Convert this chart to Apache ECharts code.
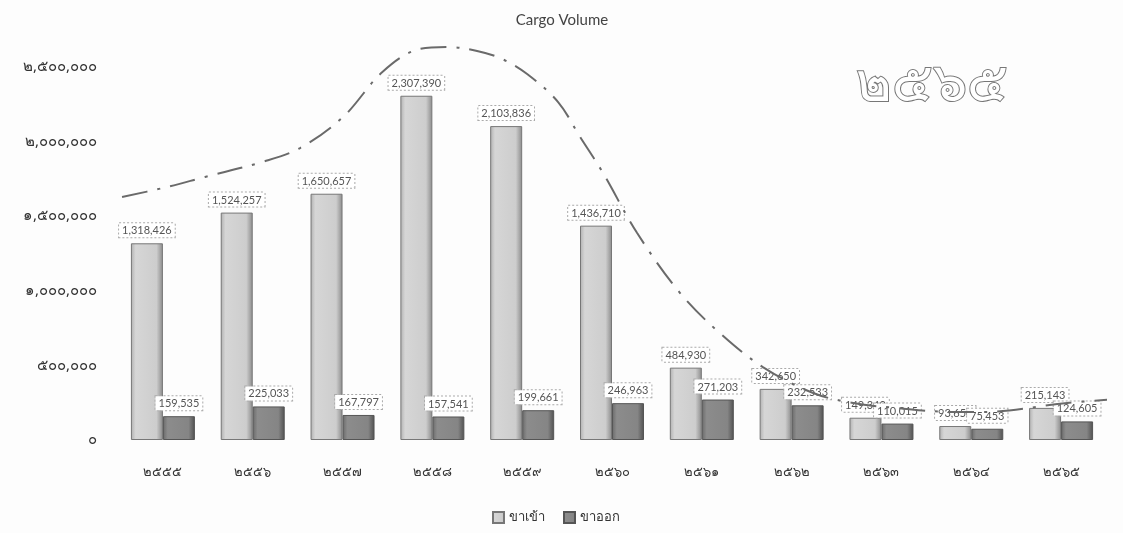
<!DOCTYPE html>
<html lang="th">
<head>
    <meta charset="UTF-8">
    <title>Cargo Volume</title>
    <script src="https://cdn.jsdelivr.net/npm/echarts@6/dist/echarts.min.js"></script>
    <style>
        html, body { margin: 0; padding: 0; background: #fdfdfd; }
        #chart { width: 1123px; height: 533px; }
    </style>
</head>
<body>
<div id="chart"></div>
<script>
    // years (Thai Buddhist era, Thai digits)
    const years = ['๒๕๕๕', '๒๕๕๖', '๒๕๕๗', '๒๕๕๘', '๒๕๕๙', '๒๕๖๐', '๒๕๖๑', '๒๕๖๒', '๒๕๖๓', '๒๕๖๔', '๒๕๖๕'];
    const inbound = [1318426, 1524257, 1650657, 2307390, 2103836, 1436710, 484930, 342650, 149340, 93650, 215143];
    const outbound = [159535, 225033, 167797, 157541, 199661, 246963, 271203, 232533, 110015, 75453, 124605];
    const yTickLabels = ['๐', '๕๐๐,๐๐๐', '๑,๐๐๐,๐๐๐', '๑,๕๐๐,๐๐๐', '๒,๐๐๐,๐๐๐', '๒,๕๐๐,๐๐๐'];
    // dash-dot trend curve (x in category units)
    const trendX = [-0.455, 0.0, 0.469, 1.104, 1.527, 2.006, 2.45, 2.863, 3.175, 3.498, 3.776, 4.055, 4.4, 4.645, 4.9, 5.28, 5.758, 6.2, 6.68, 7.24, 7.685, 8.175, 8.8, 9.12, 10.07, 10.625];
    const trendY = [1629000, 1689000, 1763000, 1863000, 1957000, 2165000, 2470000, 2621000, 2634000, 2607000, 2554000, 2453000, 2265000, 2031000, 1790000, 1387000, 985000, 717000, 489000, 315000, 248000, 214000, 188000, 188000, 248000, 275000];

    let myChart = echarts.init(document.getElementById('chart'));

    let labelStyle = {
        show: true,
        position: 'top',
        distance: 6,
        fontFamily: 'Liberation Sans Narrow, Lato, sans-serif',
        fontSize: 11,
        color: '#555',
        backgroundColor: '#fff',
        borderColor: '#aaa',
        borderWidth: 1,
        borderType: 'dotted',
        padding: [2, 3, 1, 3],
        formatter: p => p.value.toLocaleString('en-US')
    };

    let option = {
        backgroundColor: '#fdfdfd',
        animation: false,
        title: {
            text: 'Cargo Volume',
            left: 557,
            top: 8,
            textAlign: 'center',
            textStyle: { fontFamily: 'Lato, sans-serif', fontSize: 15, fontWeight: 'normal', color: '#444' }
        },
        legend: {
            bottom: 4,
            left: 487,
            icon: 'rect',
            itemWidth: 11,
            itemHeight: 11,
            itemGap: 18,
            textStyle: { fontFamily: 'Noto Sans, sans-serif', fontSize: 13, color: '#333' },
            data: ['ขาเข้า', 'ขาออก']
        },
        graphic: [{
            type: 'text',
            left: 855,
            top: 58,
            style: {
                text: '๒๕๖๕',
                fontSize: 54,
                fontFamily: 'Noto Sans, sans-serif',
                fill: '#fff',
                stroke: '#777',
                lineWidth: 2
            }
        }],
        grid: { left: 118, right: 17, top: 67, bottom: 93 },
        xAxis: [
            {
                type: 'category',
                data: years,
                axisLine: { show: false },
                axisTick: { show: false },
                axisLabel: { margin: 26, fontSize: 13, color: '#333', fontFamily: 'Noto Sans, sans-serif' }
            },
            {
                type: 'value',
                min: -0.5,
                max: 10.5,
                show: false
            }
        ],
        yAxis: {
            type: 'value',
            min: 0,
            max: 2500000,
            interval: 500000,
            axisLine: { show: false },
            axisTick: { show: false },
            splitLine: { show: false },
            axisLabel: {
                margin: 21,
                fontSize: 15,
                color: '#333',
                fontFamily: 'Noto Sans, sans-serif',
                formatter: v => yTickLabels[Math.round(v / 500000)]
            }
        },
        series: [
            {
                name: 'ขาเข้า',
                type: 'bar',
                data: inbound,
                barWidth: 32,
                barGap: '0%',
                itemStyle: {
                    color: new echarts.graphic.LinearGradient(0, 0, 1, 0, [
                        { offset: 0, color: '#b0b0b0' },
                        { offset: 0.15, color: '#d6d6d6' },
                        { offset: 0.8, color: '#cdcdcd' },
                        { offset: 1, color: '#8a8a8a' }
                    ]),
                    borderColor: '#777',
                    borderWidth: 1
                },
                label: labelStyle
            },
            {
                name: 'ขาออก',
                type: 'bar',
                data: outbound,
                barWidth: 32,
                itemStyle: {
                    color: new echarts.graphic.LinearGradient(0, 0, 1, 0, [
                        { offset: 0, color: '#6a6a6a' },
                        { offset: 0.15, color: '#8c8c8c' },
                        { offset: 0.8, color: '#858585' },
                        { offset: 1, color: '#505050' }
                    ]),
                    borderColor: '#555',
                    borderWidth: 1
                },
                label: labelStyle
            },
            {
                name: 'trend',
                type: 'line',
                xAxisIndex: 1,
                data: trendX.map((x, i) => [x, trendY[i]]),
                smooth: 0.35,
                symbol: 'none',
                clip: false,
                silent: true,
                lineStyle: { color: '#6a6a6a', width: 2, type: [26, 10, 3, 10] },
                z: 5
            }
        ]
    };
    myChart.setOption(option);
</script>
</body>
</html>
